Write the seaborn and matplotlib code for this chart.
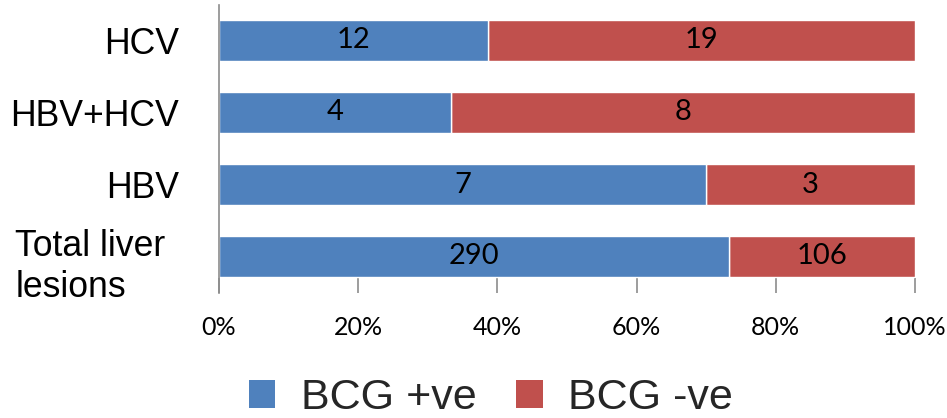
import matplotlib
matplotlib.use("Agg")
import matplotlib.pyplot as plt
import matplotlib.transforms as mtransforms
import seaborn as sns
import pandas as pd
from matplotlib.patches import Patch

categories = ["HCV", "HBV+HCV", "HBV", "Total liver\nlesions"]
bcg_pos = [12, 4, 7, 290]
bcg_neg = [19, 8, 3, 106]
series_names = ["BCG +ve", "BCG -ve"]
x_ticks = [0, 20, 40, 60, 80, 100]
x_tick_labels = ["0%", "20%", "40%", "60%", "80%", "100%"]

BLUE = "#4F81BD"
RED = "#C0504D"

sns.set_theme(style="white")
plt.rcParams["font.family"] = ["Liberation Sans", "DejaVu Sans"]

totals = [p + n for p, n in zip(bcg_pos, bcg_neg)]
df = pd.DataFrame({
    "category": categories,
    "pos_pct": [p / t * 100 for p, t in zip(bcg_pos, totals)],
    "full_pct": [100.0 for _ in totals],
})

fig = plt.figure(figsize=(9.47, 4.18), dpi=100)
ax = fig.add_axes([219 / 947, 1 - 292.5 / 418, (915 - 219) / 947, (292.5 - 4.5) / 418])

sns.barplot(data=df, x="full_pct", y="category", color=RED, saturation=1,
            width=0.57, ax=ax, orient="h")
sns.barplot(data=df, x="pos_pct", y="category", color=BLUE, saturation=1,
            width=0.57, ax=ax, orient="h")

red_bars = ax.containers[0]
blue_bars = ax.containers[1]
# red segment only covers the remainder, so its label is centred in it
for rect, p in zip(red_bars, df["pos_pct"]):
    rect.set_x(p)
    rect.set_width(100 - p)

num_family = ["Lato", "DejaVu Sans"]
ax.bar_label(blue_bars, labels=[str(v) for v in bcg_pos], label_type="center",
             fontsize=21, family=num_family, color="black")
ax.bar_label(red_bars, labels=[str(v) for v in bcg_neg], label_type="center",
             fontsize=21, family=num_family, color="black")

ax.set_xlim(0, 100)
ax.set_ylim(3.5, -0.5)
ax.set_xticks(x_ticks)
ax.set_xticklabels(x_tick_labels, fontsize=18, family=num_family)
ax.set_xlabel("")
ax.set_ylabel("")

for s in ["top", "right", "bottom"]:
    ax.spines[s].set_visible(False)
ax.spines["left"].set_color("#8c8c8c")
ax.spines["left"].set_linewidth(1.2)

ax.tick_params(axis="x", which="major", bottom=True, direction="in", length=11,
               width=1.2, color="#8c8c8c", pad=17, labelcolor="black")
ax.tick_params(axis="y", left=False, pad=23, labelsize=25.7, labelcolor="black")
ylabels = ax.get_yticklabels()
for lbl in ylabels:
    lbl.set_multialignment("left")
# wrapped label sits a little further left, as in the original
shift = mtransforms.ScaledTranslation(-13 / 100, -4 / 100, fig.dpi_scale_trans)
ylabels[-1].set_transform(ylabels[-1].get_transform() + shift)

handles = [Patch(facecolor=BLUE, edgecolor="none"), Patch(facecolor=RED, edgecolor="none")]
fig.legend(handles, series_names, loc="center", bbox_to_anchor=(491 / 947, 1 - 398 / 418),
           ncol=2, frameon=False, fontsize=31, handlelength=0.62, handleheight=0.62,
           handletextpad=0.6, columnspacing=0.9, borderpad=0)

fig.savefig("out.png", dpi=100)
